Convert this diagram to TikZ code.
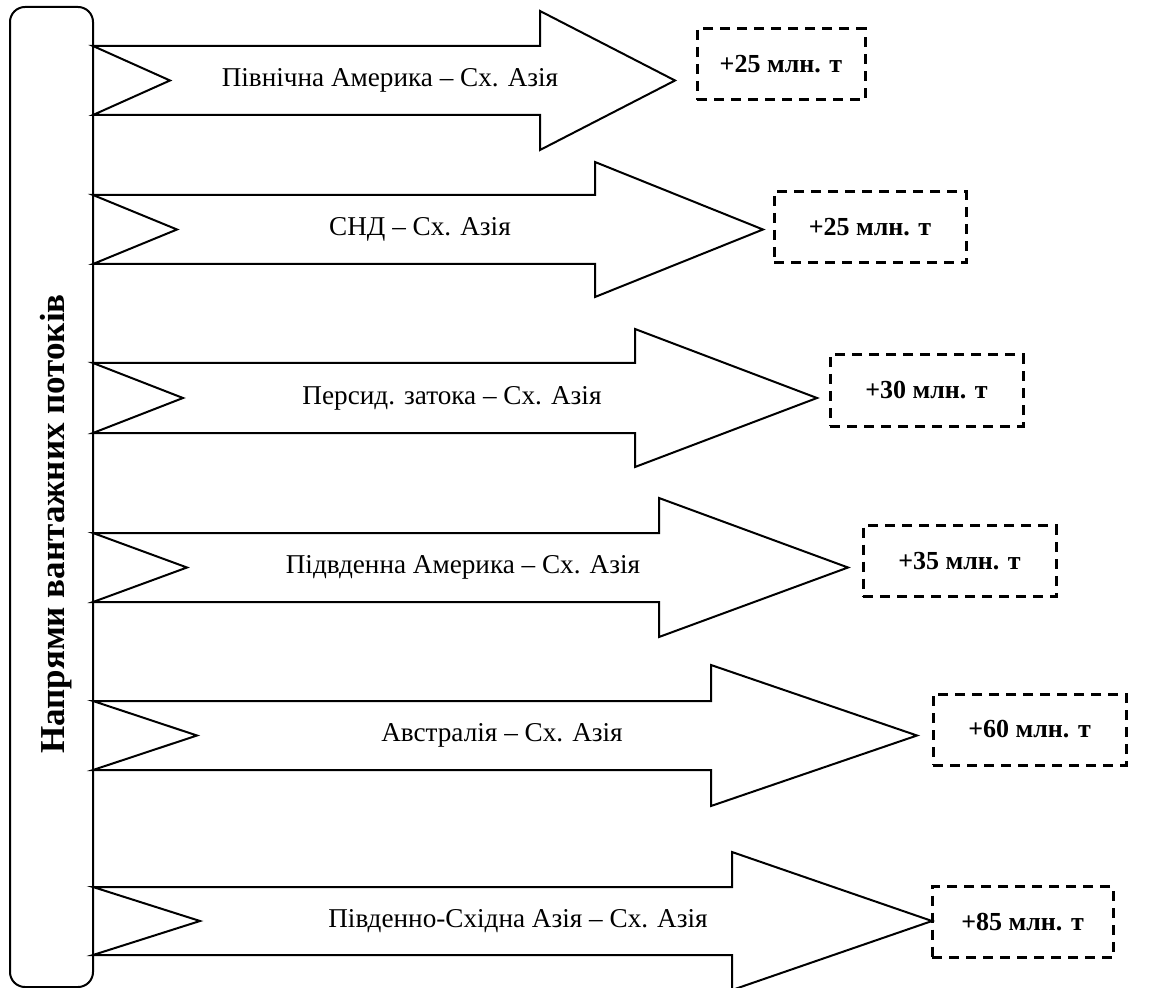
\documentclass[tikz,border=0pt]{standalone}
\usepackage{fontspec}
\setmainfont{Liberation Serif}
\usepackage{tikz}
\usetikzlibrary{shapes}

\tikzset{
  flow/.style={draw, line width=1pt, fill=white, line join=miter},
  flowtext/.style={font=\fontsize{13.6}{16}\selectfont},
  growbox/.style={draw, line width=1.5pt, dash pattern=on 5pt off 3.5pt,
    minimum height=35.5pt, inner sep=0pt, font=\bfseries\fontsize{13}{16}\selectfont},
  sidebox/.style={draw, line width=1pt, rounded corners=7.5pt}
}

\begin{document}
\begin{tikzpicture}[x=0.5pt,y=-0.5pt]
\useasboundingbox (0,0) rectangle (1154,988);
\draw[sidebox] (10,7) rectangle (93,987);
\node[rotate=90, font=\bfseries\fontsize{17.5}{20}\selectfont] (side) at (56,524) {Напрями вантажних потоків};
% arrows
\draw[flow] (93,46) -- (540,46) -- (540,11) -- (675,80.5) -- (540,150) -- (540,115) -- (93,115) -- (170,80.5) -- cycle;
\draw[flow] (93,195) -- (595,195) -- (595,162) -- (763,229.5) -- (595,297) -- (595,264) -- (93,264) -- (177,229.5) -- cycle;
\draw[flow] (93,363) -- (635,363) -- (635,329) -- (817,398) -- (635,467) -- (635,433) -- (93,433) -- (183,398) -- cycle;
\draw[flow] (93,533) -- (659,533) -- (659,498) -- (848,567.5) -- (659,637) -- (659,602) -- (93,602) -- (187,567.5) -- cycle;
\draw[flow] (93,701) -- (711,701) -- (711,665) -- (917,735.5) -- (711,806) -- (711,770) -- (93,770) -- (197,735.5) -- cycle;
\draw[flow] (93,887) -- (732,887) -- (732,852) -- (932,921) -- (732,990) -- (732,955) -- (93,955) -- (200,921) -- cycle;
% labels
\node[flowtext] (na) at (390,80.5) {Північна Америка – Сх. Азія};
\node[flowtext] (cis) at (420,229.5) {СНД – Сх. Азія};
\node[flowtext] (gulf) at (452,398) {Персид. затока – Сх. Азія};
\node[flowtext] (sam) at (463,567.5) {Підвденна Америка – Сх. Азія};
\node[flowtext] (aus) at (502,735.5) {Австралія – Сх. Азія};
\node[flowtext] (sea) at (518,921) {Південно-Східна Азія – Сх. Азія};
% growth
\node[growbox, minimum width=84pt] (na-t) at (781,64.5) {+25 млн. т};
\node[growbox, minimum width=96pt] (cis-t) at (870,227.5) {+25 млн. т};
\node[growbox, minimum width=96.5pt] (gulf-t) at (926.5,390.5) {+30 млн. т};
\node[growbox, minimum width=96.5pt] (sam-t) at (959.5,561) {+35 млн. т};
\node[growbox, minimum width=96.5pt] (aus-t) at (1029.5,729.5) {+60 млн. т};
\node[growbox, minimum width=90.5pt] (sea-t) at (1022.5,922) {+85 млн. т};
\end{tikzpicture}
\end{document}
